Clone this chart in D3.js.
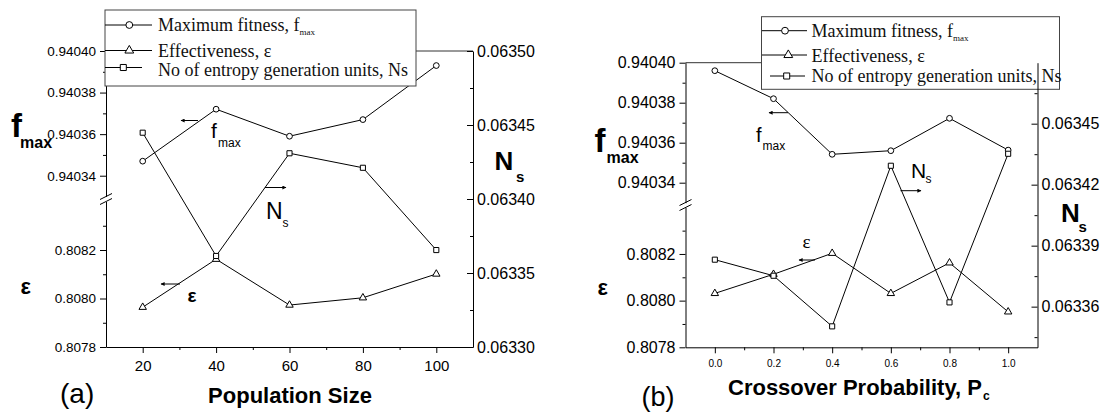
<!DOCTYPE html>
<html>
<head>
<meta charset="utf-8">
<script src="https://cdn.jsdelivr.net/npm/d3@7"></script>
<style>
  body { margin: 0; background: #fff; }
  svg { display: block; }
</style>
</head>
<body>
<svg id="chart" width="1109" height="414"></svg>
<script>
// ---- data ----
const popSize = [20, 40, 60, 80, 100];
const popFmax = [0.940347, 0.940372, 0.940359, 0.940367, 0.940393];
const popEps = [0.807964, 0.808162, 0.807973, 0.808003, 0.808101];
const popNs = [0.0634448, 0.0633615, 0.0634309, 0.0634211, 0.0633655];

const crossProb = [0.0, 0.2, 0.4, 0.6, 0.8, 1.0];
const crossFmax = [0.940396, 0.940382, 0.9403542, 0.940356, 0.9403722, 0.9403563];
const crossEps = [0.808031, 0.808113, 0.808203, 0.808031, 0.808162, 0.807952];
const crossNs = [0.0633831, 0.0633752, 0.0633503, 0.0634293, 0.0633621, 0.0634352];

// ---- ticks ----
const fmaxTicks = [0.94034, 0.94036, 0.94038, 0.9404];
const fmaxMinor = [0.94035, 0.94037, 0.94039];
const epsTicks = [0.8078, 0.808, 0.8082];
const epsMinor = [0.8079, 0.8081, 0.8083];
const popTicks = [20, 40, 60, 80, 100];
const popMinor = [30, 50, 70, 90];
const popNsTicks = [0.0633, 0.06335, 0.0634, 0.06345, 0.0635];
const popNsMinor = [0.063325, 0.063375, 0.063425, 0.063475];
const crossTicks = [0, 0.2, 0.4, 0.6, 0.8, 1.0];
const crossMinor = [0.1, 0.3, 0.5, 0.7, 0.9];
const crossNsTicks = [0.06336, 0.06339, 0.06342, 0.06345];
const crossNsMinor = [0.063345, 0.063375, 0.063405, 0.063435, 0.063465];

const legendLabels = [
  { text: "Maximum fitness, f", sub: "max" },
  { text: "Effectiveness, ε", sub: "" },
  { text: "No of entropy generation units, Ns", sub: "" },
];

const SANS = '"Liberation Sans", Arial, sans-serif';
const SERIF = '"Liberation Serif", "Times New Roman", serif';

const svg = d3.select("#chart");

svg.append("defs").append("marker")
  .attr("id", "arrow")
  .attr("viewBox", "0 0 10 10")
  .attr("refX", 9).attr("refY", 5)
  .attr("markerWidth", 6).attr("markerHeight", 4)
  .attr("markerUnits", "userSpaceOnUse")
  .attr("orient", "auto")
  .append("path").attr("d", "M0,0L10,5L0,10Z").attr("fill", "#000");

function addText(g, t) {
  const el = g.append("text")
    .attr("x", t.x).attr("y", t.y)
    .attr("font-family", t.family || SANS)
    .attr("font-size", t.size)
    .attr("font-weight", t.weight || "normal")
    .attr("text-anchor", t.anchor || "start")
    .attr("fill", "#000");
  el.append("tspan").text(t.text);
  if (t.sub) {
    const s = el.append("tspan")
      .attr("y", t.subY)
      .attr("font-size", t.subSize)
      .text(t.sub);
    if (t.subX !== undefined) s.attr("x", t.subX);
    if (t.subDx !== undefined) s.attr("dx", t.subDx);
  }
  return el;
}

function symbolPath(kind, size) {
  const type = kind === "circle" ? d3.symbolCircle
    : kind === "triangle" ? d3.symbolTriangle : d3.symbolSquare;
  return d3.symbol().type(type).size(size)();
}
const symbolSize = { circle: 26, triangle: 24, square: 26 };

function styleAxis(sel, size) {
  sel.attr("font-family", SANS).attr("font-size", size);
  sel.selectAll("path, line").attr("stroke", "#000").attr("stroke-width", 1);
  sel.selectAll("text").attr("fill", "#000");
}

function drawPanel(p) {
  const g = svg.append("g");

  const x = d3.scaleLinear().domain(p.xDomain).range([p.left, p.right]);
  const yHi = d3.scaleLinear().domain([0.94033, 0.9404]).range([p.hiBottom, p.top]);
  const yLo = d3.scaleLinear().domain([0.8078, 0.8084]).range([p.bottom, p.loTop]);
  const yR = d3.scaleLinear().domain(p.rDomain).range([p.bottom, p.top]);

  // frame top line
  g.append("line")
    .attr("x1", p.left).attr("x2", p.right)
    .attr("y1", p.top).attr("y2", p.top)
    .attr("stroke", "#333");

  // bottom axis
  g.append("g").attr("transform", `translate(0,${p.bottom})`)
    .call(d3.axisBottom(x).tickValues(p.xTicks).tickFormat(p.xFormat)
      .tickSize(6).tickSizeOuter(0).tickPadding(7))
    .call((s) => styleAxis(s, p.xFont));
  g.append("g").attr("transform", `translate(0,${p.bottom})`)
    .call(d3.axisBottom(x).tickValues(p.xMinor).tickFormat("").tickSize(3))
    .call((s) => { s.select(".domain").remove(); styleAxis(s, 10); });

  // left broken axis
  g.append("g").attr("transform", `translate(${p.left},0)`)
    .call(d3.axisLeft(yHi).tickValues(fmaxTicks).tickFormat(d3.format(".5f"))
      .tickSize(6).tickSizeOuter(0).tickPadding(4))
    .call((s) => styleAxis(s, p.leftFont));
  g.append("g").attr("transform", `translate(${p.left},0)`)
    .call(d3.axisLeft(yHi).tickValues(fmaxMinor).tickFormat("").tickSize(3))
    .call((s) => { s.select(".domain").remove(); styleAxis(s, 10); });
  g.append("g").attr("transform", `translate(${p.left},0)`)
    .call(d3.axisLeft(yLo).tickValues(epsTicks).tickFormat(d3.format(".4f"))
      .tickSize(6).tickSizeOuter(0).tickPadding(4))
    .call((s) => styleAxis(s, p.leftFont));
  g.append("g").attr("transform", `translate(${p.left},0)`)
    .call(d3.axisLeft(yLo).tickValues(epsMinor).tickFormat("").tickSize(3))
    .call((s) => { s.select(".domain").remove(); styleAxis(s, 10); });

  // axis break marks
  [-2.5, 2.5].forEach((dy) => {
    g.append("line")
      .attr("x1", p.left - 6).attr("y1", p.breakY + dy + 3)
      .attr("x2", p.left + 6).attr("y2", p.breakY + dy - 3)
      .attr("stroke", "#000");
  });

  // series
  const series = [
    { key: "fmax", values: p.fmax, y: (v) => yHi(v), shape: "circle" },
    { key: "eps", values: p.eps, y: (v) => yLo(v), shape: "triangle" },
    { key: "ns", values: p.ns, y: (v) => yR(v), shape: "square" },
  ];
  series.forEach((s) => {
    const pts = p.xs.map((xv, i) => [x(xv), s.y(s.values[i])]);
    g.append("path")
      .attr("d", d3.line()(pts))
      .attr("fill", "none")
      .attr("stroke", "#000")
      .attr("stroke-width", 1);
  });
  series.forEach((s) => {
    g.selectAll(null)
      .data(p.xs.map((xv, i) => [x(xv), s.y(s.values[i])]))
      .join("path")
      .attr("transform", (d) => `translate(${d[0]},${d[1]})`)
      .attr("d", symbolPath(s.shape, symbolSize[s.shape]))
      .attr("fill", "#fff")
      .attr("stroke", "#000")
      .attr("stroke-width", 1);
  });

  // annotations: arrows + labels
  p.arrows.forEach((a) => {
    g.append("line")
      .attr("x1", a[0]).attr("y1", a[1]).attr("x2", a[2]).attr("y2", a[1])
      .attr("stroke", "#000").attr("stroke-width", 1)
      .attr("marker-end", "url(#arrow)");
  });
  p.notes.forEach((t) => addText(g, t));

  // legend
  const L = p.legend;
  const lg = g.append("g");
  lg.append("rect")
    .attr("x", L.x).attr("y", L.y).attr("width", L.w).attr("height", L.h)
    .attr("fill", "#fff").attr("stroke", "#444").attr("stroke-width", 1);
  series.forEach((s, i) => {
    lg.append("line")
      .attr("x1", L.lineX[i][0]).attr("x2", L.lineX[i][1])
      .attr("y1", L.markY[i]).attr("y2", L.markY[i])
      .attr("stroke", "#000");
    lg.append("path")
      .attr("transform", `translate(${L.markX[i]},${L.markY[i]})`)
      .attr("d", symbolPath(s.shape, symbolSize[s.shape] * 1.4))
      .attr("fill", "#fff").attr("stroke", "#000");
    const lab = legendLabels[i];
    const t = lg.append("text")
      .attr("x", L.textX).attr("y", L.textY[i])
      .attr("font-family", SERIF).attr("font-size", 18).attr("fill", "#111");
    t.append("tspan").text(lab.text);
    if (lab.sub) {
      t.append("tspan").attr("dy", 4).attr("font-size", 9).text(lab.sub);
    }
  });

  // right axis (drawn over the legend)
  g.append("g").attr("transform", `translate(${p.right},0)`)
    .call(d3.axisRight(yR).tickValues(p.rTicks).tickFormat(d3.format(".5f"))
      .tickSize(-6).tickSizeOuter(0).tickPadding(4))
    .call((s) => styleAxis(s, p.rightFont));
  g.append("g").attr("transform", `translate(${p.right},0)`)
    .call(d3.axisRight(yR).tickValues(p.rMinor).tickFormat("").tickSize(-3))
    .call((s) => { s.select(".domain").remove(); styleAxis(s, 10); });

  // axis titles
  p.titles.forEach((t) => addText(g, t));
}

drawPanel({
  xs: popSize, fmax: popFmax, eps: popEps, ns: popNs,
  xDomain: [10, 110], xTicks: popTicks, xMinor: popMinor,
  xFormat: d3.format("d"), xFont: 15,
  left: 106, right: 473, top: 51, bottom: 347,
  hiBottom: 196.5, loTop: 201.5, breakY: 199,
  rDomain: [0.0633, 0.0635], rTicks: popNsTicks, rMinor: popNsMinor,
  leftFont: 13.5, rightFont: 16,
  legend: {
    x: 105, y: 10, w: 311, h: 76,
    markY: [25, 50.5, 67.5],
    lineX: [[105, 152], [105, 152], [105, 142]],
    markX: [129.3, 129.3, 123.3],
    textX: 158, textY: [31, 56.5, 75.5],
  },
  arrows: [[198, 120.5, 181, 120.5], [265, 187.5, 286, 187.5], [180, 284, 161, 284]],
  notes: [
    { x: 211, y: 138, text: "f", size: 21, sub: "max", subX: 218, subY: 147, subSize: 12 },
    { x: 266, y: 219, text: "N", size: 23, sub: "s", subX: 282.5, subY: 227, subSize: 12 },
    { x: 187.5, y: 302, text: "ε", size: 19, weight: "bold" },
  ],
  titles: [
    { x: 11, y: 137, text: "f", size: 33, weight: "bold", sub: "max", subX: 20, subY: 148, subSize: 16 },
    { x: 20.5, y: 294, text: "ε", size: 22, weight: "bold" },
    { x: 494.5, y: 170, text: "N", size: 26, weight: "bold", sub: "s", subX: 516, subY: 182, subSize: 15 },
    { x: 290, y: 403, text: "Population Size", size: 22, weight: "bold", anchor: "middle" },
    { x: 60, y: 403, text: "(a)", size: 28 },
  ],
});

drawPanel({
  xs: crossProb, fmax: crossFmax, eps: crossEps, ns: crossNs,
  xDomain: [-0.1, 1.1], xTicks: crossTicks, xMinor: crossMinor,
  xFormat: d3.format(".1f"), xFont: 10,
  left: 685.5, right: 1037.5, top: 62.7, bottom: 347.3,
  hiBottom: 202.7, loTop: 207.3, breakY: 205,
  rDomain: [0.06334, 0.06348], rTicks: crossNsTicks, rMinor: crossNsMinor,
  leftFont: 16, rightFont: 16,
  legend: {
    x: 761.5, y: 16.7, w: 298, h: 72.6,
    markY: [30.7, 55, 76],
    lineX: [[762, 807], [762, 807], [770, 805]],
    markX: [785, 788.3, 786.7],
    textX: 811.5, textY: [37, 62, 81.5],
  },
  arrows: [[788, 112.7, 769, 112.7], [815, 260, 799, 260], [900.5, 190.7, 921, 190.7]],
  notes: [
    { x: 756, y: 141.7, text: "f", size: 20, sub: "max", subX: 762.5, subY: 150, subSize: 12 },
    { x: 802.5, y: 248, text: "ε", size: 19, family: SERIF },
    { x: 911, y: 178, text: "N", size: 21, sub: "s", subX: 925.5, subY: 183, subSize: 12 },
  ],
  titles: [
    { x: 594.5, y: 152, text: "f", size: 33, weight: "bold", sub: "max", subX: 606.5, subY: 163, subSize: 16 },
    { x: 597.5, y: 295, text: "ε", size: 22, weight: "bold" },
    { x: 1061, y: 221.7, text: "N", size: 26, weight: "bold", sub: "s", subX: 1078.5, subY: 232, subSize: 15 },
    { x: 728, y: 395, text: "Crossover Probability, P", size: 22, weight: "bold", sub: "c", subDx: 1, subY: 400, subSize: 12 },
    { x: 641.5, y: 406, text: "(b)", size: 27 },
  ],
});
</script>
</body>
</html>
